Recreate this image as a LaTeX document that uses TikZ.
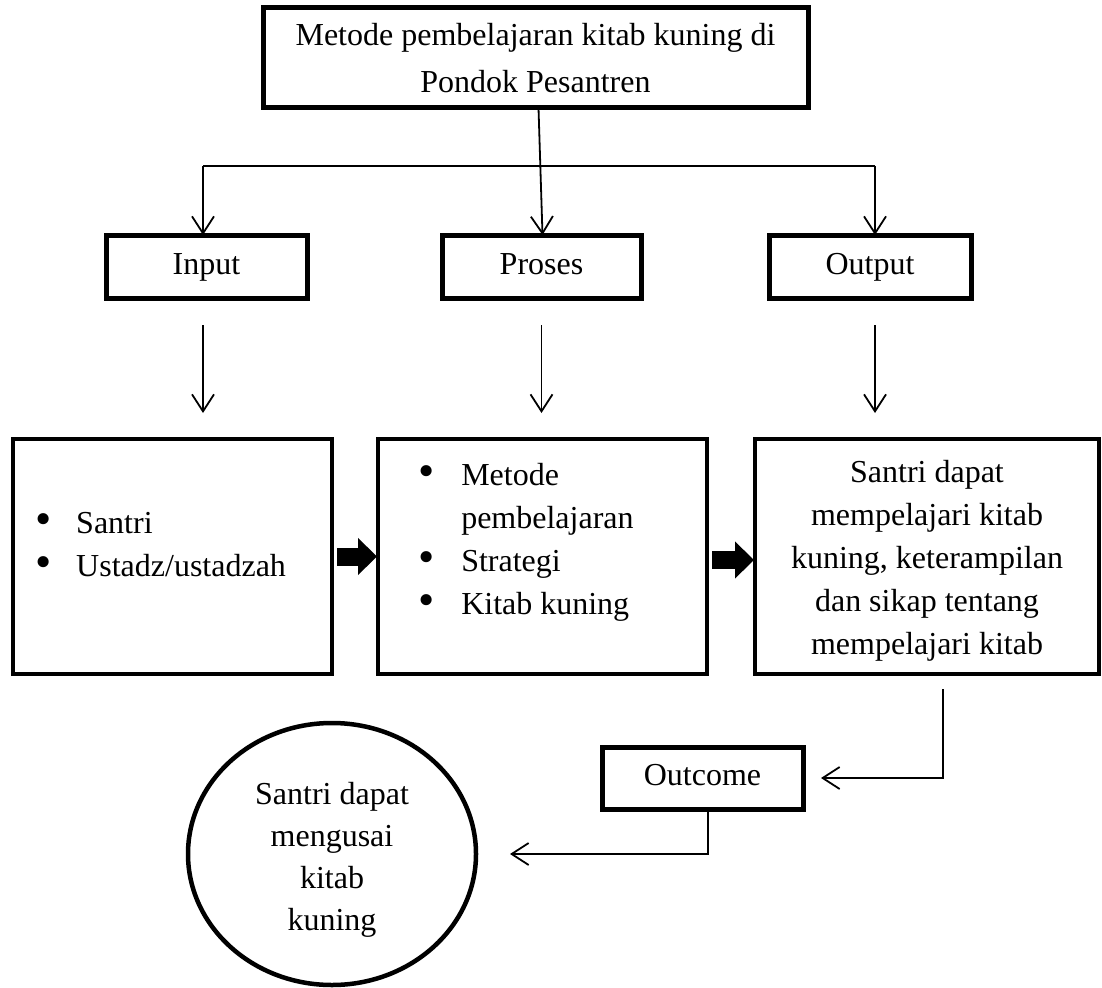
\documentclass[tikz,border=0pt]{standalone}
\usepackage{fontspec}
\setmainfont{Liberation Serif}
\usetikzlibrary{arrows.meta,positioning,shapes.geometric,calc}

\newcommand{\butir}{\raisebox{-0.5pt}{\scalebox{1.45}{\textbullet}}}

\begin{document}
\begin{tikzpicture}[x=1pt, y=-1pt, every node/.style={font=\fontsize{32}{43}\selectfont, outer sep=0pt},
  kotak/.style={rectangle, draw, line width=5pt, align=center, inner sep=0pt},
  kotakkecil/.style={kotak, text height=22pt, text depth=7pt},
  kotakbesar/.style={rectangle, draw, line width=4pt, align=center, inner sep=0pt},
  lingkaran/.style={ellipse, draw, line width=4.5pt, inner sep=0pt},
  garis/.style={line width=1.8pt},
  panah/.style={line width=1.8pt, -{Straight Barb[length=17pt,width=22pt,line width=1.8pt]}},
  blok/.style={line width=18pt, -{Triangle[length=19pt,width=36pt]}}]
\useasboundingbox (0,0) rectangle (1102,987);

% judul
\node[kotak, minimum width=545pt, minimum height=100pt, font=\fontsize{32}{47}\selectfont] (judul) at (535.5,58) {Metode pembelajaran kitab kuning di\\Pondok Pesantren};

% input, proses, output
\node[kotakkecil, minimum width=201pt, minimum height=63pt] (input) at (206.5,266.5) {Input};
\node[kotakkecil, minimum width=199pt, minimum height=63pt] (proses) at (541.5,266.5) {Proses};
\node[kotakkecil, minimum width=202pt, minimum height=63pt] (output) at (870,266.5) {Output};

\coordinate (cabkiri) at (203,166);
\coordinate (cabkanan) at (875,166);
\draw[panah] ([xshift=3pt]judul.south) -- ([xshift=1pt]proses.north);
\draw[garis] (cabkiri) -- (cabkanan);
\draw[panah] (cabkiri) -- (cabkiri |- input.north);
\draw[panah] (cabkanan) -- (cabkanan |- output.north);

% kotak isi
\node[kotakbesar, minimum width=319pt, minimum height=235pt] (kiri) at (172.5,556.5) {};
\node[kotakbesar, minimum width=329pt, minimum height=235pt] (tengah) at (542.5,556.5) {};
\node[kotakbesar, minimum width=344pt, minimum height=235pt] (kanan) at (927,556.5) {};

\node[anchor=west, inner sep=0pt] (isikiri) at ([xshift=22pt, yshift=10pt]kiri.west)
  {\begin{tabular}{@{}l@{\hspace{25pt}}l@{}}\butir & Santri\\ \butir & Ustadz/ustadzah\end{tabular}};
\node[anchor=west, inner sep=0pt] (isitengah) at ([xshift=40pt, yshift=15pt]tengah.west)
  {\begin{tabular}{@{}l@{\hspace{27pt}}l@{}}\butir & Metode\\ & pembelajaran\\ \butir & Strategi\\ \butir & Kitab kuning\end{tabular}};
\node[align=center, inner sep=0pt] (isikanan) at ([yshift=-4pt]kanan.center)
  {Santri dapat\\mempelajari kitab\\kuning, keterampilan\\dan sikap tentang\\mempelajari kitab};

\draw[panah, shorten <=27pt, shorten >=26pt] (cabkiri |- input.south) -- (cabkiri |- kiri.north);
\draw[panah, shorten <=27pt, shorten >=26pt] (proses.south) -- (proses.south |- tengah.north);
\draw[panah, shorten <=27pt, shorten >=26pt] (cabkanan |- output.south) -- (cabkanan |- kanan.north);

\draw[blok, shorten <=5pt, shorten >=1pt] (kiri.east) -- (tengah.west);
\draw[blok, shorten <=5pt, shorten >=1pt] ([yshift=-3.5pt]tengah.east) -- ([yshift=-3.5pt]kanan.west);

% outcome
\node[kotakkecil, minimum width=201pt, minimum height=62pt] (outcome) at (702.5,778) {Outcome};
\node[lingkaran, minimum width=288pt, minimum height=262pt] (hasil) at (332,854) {};
\node[align=center, inner sep=0pt, font=\fontsize{32}{42}\selectfont] (isihasil) at ([yshift=-6pt]hasil.center)
  {Santri dapat\\mengusai\\kitab\\kuning};

\draw[panah, shorten <=15pt, shorten >=18pt] ([xshift=16pt]kanan.south) |- (outcome.east);
\draw[panah, shorten >=34pt] ([xshift=5.5pt]outcome.south) |- (hasil.east);
\end{tikzpicture}
\end{document}
